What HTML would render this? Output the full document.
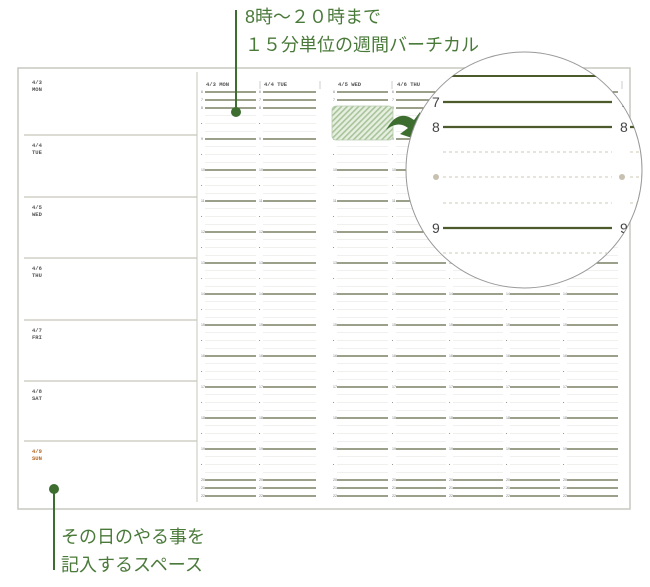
<!DOCTYPE html>
<html><head><meta charset="utf-8"><style>
html,body{margin:0;padding:0;background:#fff;}
svg{display:block;}
.jp{font-family:"Liberation Sans","Noto Sans CJK JP",sans-serif;fill:#4a7a3a;font-size:18px;}
.sm{font-family:"Liberation Mono",monospace;font-size:5.5px;fill:#555;font-weight:bold;}
.tn{font-family:"Liberation Sans",sans-serif;font-size:3.5px;fill:#777;}
</style></head><body>
<svg id="s" width="650" height="587" viewBox="0 0 650 587" xmlns="http://www.w3.org/2000/svg">
<defs>
<pattern id="h" width="4" height="4" patternUnits="userSpaceOnUse" patternTransform="rotate(45)">
<rect width="4" height="4" fill="#e6efe0"/><rect width="1.6" height="4" fill="#a8c49a"/>
</pattern>
<clipPath id="cc"><circle cx="524" cy="170" r="118"/></clipPath>
</defs>
<rect x="18" y="68" width="612" height="441" fill="#fff" stroke="#c8c8c0" stroke-width="1.5"/>
<line x1="197" y1="72" x2="197" y2="502" stroke="#d0d0c8" stroke-width="1.2"/>
<g id="g"></g>
<rect x="332" y="106" width="61" height="34" rx="4" fill="url(#h)" stroke="#b8ccb0" stroke-width="0.8"/>
<path d="M386 130 Q398 108 414 120 L420 112 L424 142 L400 134 L408 128 Q398 120 386 130Z" fill="#3d6e30"/>
<circle cx="524" cy="170" r="118" fill="#fff" stroke="#999" stroke-width="1"/>
<g clip-path="url(#cc)">
<line x1="380" y1="76" x2="612" y2="76" stroke="#4d5a2c" stroke-width="2"/>
<g id="m"></g>
</g>
<line x1="236" y1="10" x2="236" y2="112" stroke="#3d6e30" stroke-width="2"/>
<circle cx="236" cy="112" r="5" fill="#3d6e30"/>
<text class="jp" x="245" y="23">8時～２０時まで</text>
<text class="jp" x="245" y="51">１５分単位の週間バーチカル</text>
<line x1="54" y1="489" x2="54" y2="570" stroke="#3d6e30" stroke-width="2"/>
<circle cx="54" cy="489" r="5" fill="#3d6e30"/>
<text class="jp" x="61" y="543">その日のやる事を</text>
<text class="jp" x="61" y="571">記入するスペース</text>
</svg>
<script>
var NS="http://www.w3.org/2000/svg",g=document.getElementById('g'),m=document.getElementById('m');
function el(p,t,a,txt){var e=document.createElementNS(NS,t);for(var k in a)e.setAttribute(k,a[k]);if(txt!=null)e.textContent=txt;p.appendChild(e);return e;}
var days=[["4/3","MON",72],["4/4","TUE",135],["4/5","WED",197],["4/6","THU",258],["4/7","FRI",320],["4/8","SAT",381],["4/9","SUN",441]];
days.forEach(function(d,i){
 if(i>0)el(g,'line',{x1:24,y1:d[2],x2:197,y2:d[2],stroke:'#c8c8bc','stroke-width':1.2});
 var c=d[1]=="SUN"?'#b5651d':'#555';
 el(g,'text',{class:'sm',x:32,y:d[2]+12,style:'fill:'+c},d[0]);
 el(g,'text',{class:'sm',x:32,y:d[2]+19,style:'fill:'+c},d[1]);
});
var cols=[[201,258],[259,318],[333,390],[392,448],[449,505],[506,562],[563,620]];
var hd=["4/3 MON","4/4 TUE","4/5 WED","4/6 THU","4/7 FRI","4/8 SAT","4/9 SUN"];
function yh(h){return h==6?92:h==7?100:h<=19?108+(h-8)*31:(h==20?480:h==21?488:496);}
cols.forEach(function(c,i){
 el(g,'text',{class:'sm',x:c[0]+5,y:86},hd[i]);
 el(g,'line',{x1:c[1]+2,y1:81,x2:c[1]+2,y2:89,stroke:'#aaa','stroke-width':0.6});
 for(var h=6;h<=22;h++){
  var y=yh(h);
  el(g,'line',{x1:c[0]+4,y1:y,x2:c[1]-2,y2:y,stroke:'#5e6844','stroke-width':1.2});
  el(g,'text',{class:'tn',x:c[0],y:y+1},h);
  if(h>=8&&h<=19){
   for(var q=1;q<4;q++){var yy=y+q*7.75;
    el(g,'line',{x1:c[0]+4,y1:yy,x2:c[1]-2,y2:yy,stroke:'#e2e2dc','stroke-width':0.6});}
   el(g,'text',{class:'tn',x:c[0],y:y+16.5},'•');
  }
 }
});
[[102,"7"],[127,"8"],[228,"9"]].forEach(function(a){
 el(m,'line',{x1:443,y1:a[0],x2:612,y2:a[0],stroke:'#4d5a2c','stroke-width':2.2});
 el(m,'text',{x:432,y:a[0]+5,style:'font-family:Liberation Sans,sans-serif;font-size:14px;fill:#444'},a[1]);
 el(m,'text',{x:620,y:a[0]+5,style:'font-family:Liberation Sans,sans-serif;font-size:14px;fill:#444'},a[1]);
 el(m,'line',{x1:630,y1:a[0],x2:650,y2:a[0],stroke:'#4d5a2c','stroke-width':2.2});
});
[152,177,203,253].forEach(function(y){
 el(m,'line',{x1:443,y1:y,x2:612,y2:y,stroke:'#cfcab8','stroke-width':1,'stroke-dasharray':'3 3'});
 el(m,'line',{x1:630,y1:y,x2:650,y2:y,stroke:'#cfcab8','stroke-width':1,'stroke-dasharray':'3 3'});
});
el(m,'circle',{cx:436,cy:177,r:3,fill:'#c8c0b0'});
el(m,'circle',{cx:622,cy:177,r:3,fill:'#c8c0b0'});
</script>
</body></html>
